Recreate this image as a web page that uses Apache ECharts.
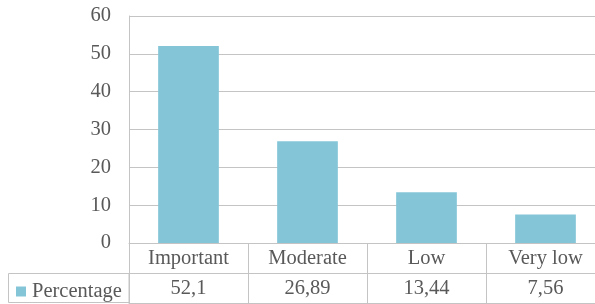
<!DOCTYPE html>
<html>
<head>
<meta charset="utf-8">
<script src="https://cdn.jsdelivr.net/npm/echarts@6/dist/echarts.min.js"></script>
<style>
  html, body { margin: 0; padding: 0; background: #fff; }
  #chart { width: 595px; height: 304px; }
</style>
</head>
<body>
<div id="chart"></div>
<script>
// data
var categories = ['Important', 'Moderate', 'Low', 'Very low'];
var percentage = [52.1, 26.89, 13.44, 7.56];
var seriesName = 'Percentage';

// values as shown in the table (decimal comma)
var tableLabels = percentage.map(function (v) { return String(v).replace('.', ','); });

var lineColor = '#c4c4c4';
var textColor = '#595959';
var font = 'Liberation Serif';
var fs = 20.5;

var chart = echarts.init(document.getElementById('chart'));
chart.setOption({
  backgroundColor: '#fff',
  animation: false,
  legend: {
    data: [seriesName],
    left: 16,
    top: 281,
    padding: 0,
    icon: 'rect',
    itemWidth: 10,
    itemHeight: 10,
    itemGap: 6,
    textStyle: { fontFamily: font, fontSize: fs, color: textColor, padding: [0, 0, 0, 1] }
  },
  // the chart is cropped on the right, so the grids run past the canvas
  grid: [
    { left: 129, width: 476, top: 16, height: 227, outerBoundsMode: 'none' },
    { left: 129, width: 476, top: 243, height: 60, outerBoundsMode: 'none' }
  ],
  xAxis: [{
    gridIndex: 0,
    type: 'category',
    data: categories,
    axisLine: { show: true, lineStyle: { color: lineColor } },
    axisTick: { show: false },
    axisLabel: { margin: 5, fontFamily: font, fontSize: fs, color: textColor }
  }, {
    gridIndex: 1,
    type: 'category',
    data: tableLabels,
    axisLine: { show: true, lineStyle: { color: lineColor } },
    axisTick: { show: false },
    splitLine: { show: true, interval: 0, lineStyle: { color: lineColor } },
    axisLabel: { inside: true, margin: 4, fontFamily: font, fontSize: fs, color: textColor }
  }],
  yAxis: [{
    gridIndex: 0,
    type: 'value',
    min: 0,
    max: 60,
    interval: 10,
    axisLine: { show: true, lineStyle: { color: lineColor } },
    axisTick: { show: false },
    splitLine: { show: true, lineStyle: { color: lineColor } },
    axisLabel: { margin: 18, fontFamily: font, fontSize: fs, color: textColor }
  }, {
    gridIndex: 1,
    type: 'value',
    min: 0,
    max: 2,
    interval: 1,
    axisLine: { show: true, lineStyle: { color: lineColor } },
    axisTick: { show: false },
    axisLabel: { show: false },
    splitLine: { show: true, lineStyle: { color: lineColor } }
  }],
  // border of the legend cell at the left of the data table
  graphic: [{
    type: 'rect',
    shape: { x: 8.5, y: 273.5, width: 120.5, height: 29 },
    style: { fill: 'none', stroke: lineColor, lineWidth: 1 },
    z: 0
  }],
  series: [{
    name: seriesName,
    type: 'bar',
    xAxisIndex: 0,
    yAxisIndex: 0,
    barWidth: '51%',
    itemStyle: { color: '#84c6d8' },
    data: percentage
  }]
});
</script>
</body>
</html>
